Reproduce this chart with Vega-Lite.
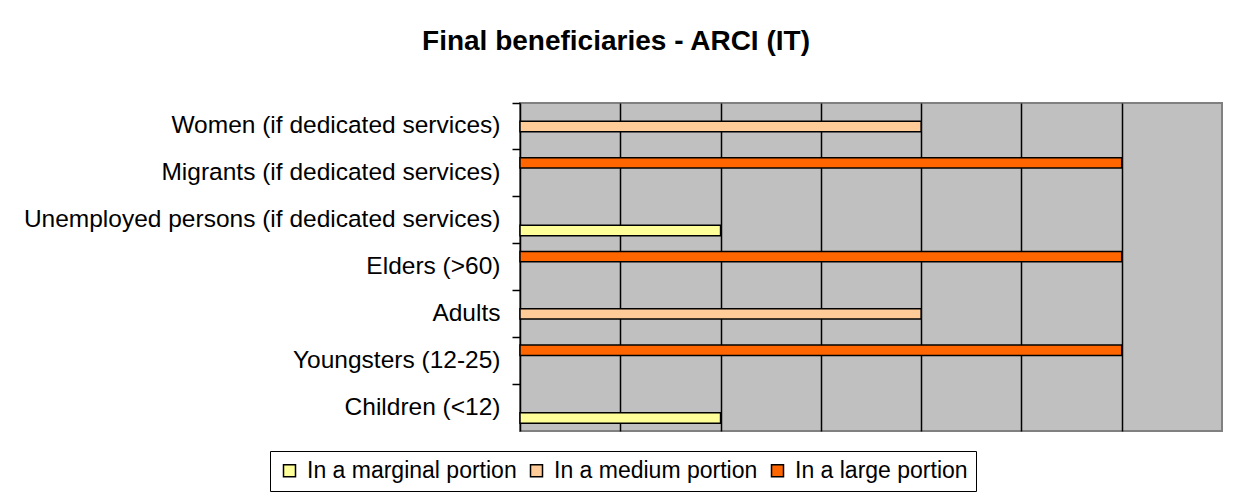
{
  "$schema": "https://vega.github.io/schema/vega-lite/v6.json",
  "width": 702,
  "height": 328,
  "autosize": {"type": "none"},
  "padding": {"left": 520, "top": 103, "right": 14, "bottom": 66},
  "background": "white",
  "title": {
    "text": "Final beneficiaries - ARCI (IT)",
    "font": "Liberation Sans",
    "fontSize": 28,
    "fontWeight": "bold",
    "color": "black",
    "anchor": "middle",
    "frame": "group",
    "dx": -255,
    "offset": 46
  },
  "data": {
    "values": [
      {"category": "Women (if dedicated services)", "portion": "In a medium portion", "value": 2},
      {"category": "Migrants (if dedicated services)", "portion": "In a large portion", "value": 3},
      {"category": "Unemployed persons (if dedicated services)", "portion": "In a marginal portion", "value": 1},
      {"category": "Elders (>60)", "portion": "In a large portion", "value": 3},
      {"category": "Adults", "portion": "In a medium portion", "value": 2},
      {"category": "Youngsters (12-25)", "portion": "In a large portion", "value": 3},
      {"category": "Children (<12)", "portion": "In a marginal portion", "value": 1}
    ]
  },
  "mark": {"type": "bar", "stroke": "black", "strokeWidth": 1.5},
  "encoding": {
    "y": {
      "field": "category",
      "type": "nominal",
      "sort": null,
      "scale": {"paddingInner": 0, "paddingOuter": 0},
      "axis": {
        "title": null,
        "bandPosition": 0,
        "labelFont": "Liberation Sans",
        "labelFontSize": 24.5,
        "labelColor": "black",
        "labelPadding": 12,
        "labelLimit": 600,
        "tickSize": 8,
        "tickColor": "black",
        "tickWidth": 1.5,
        "domainColor": "black",
        "domainWidth": 1.5,
        "grid": false
      }
    },
    "yOffset": {
      "field": "portion",
      "type": "nominal",
      "sort": ["In a large portion", "In a medium portion", "In a marginal portion"],
      "scale": {"paddingInner": 0, "paddingOuter": 0.75}
    },
    "x": {
      "field": "value",
      "type": "quantitative",
      "scale": {"domain": [0, 3.5], "nice": false},
      "axis": {
        "title": null,
        "labels": false,
        "ticks": false,
        "domain": false,
        "grid": true,
        "gridColor": "black",
        "gridWidth": 1.5,
        "values": [0.5, 1, 1.5, 2, 2.5, 3]
      }
    },
    "color": {
      "field": "portion",
      "type": "nominal",
      "scale": {
        "domain": ["In a marginal portion", "In a medium portion", "In a large portion"],
        "range": ["#FFFF99", "#FFCC99", "#FF6600"]
      },
      "legend": {
        "title": null,
        "orient": "none",
        "legendX": -250,
        "legendY": 348,
        "direction": "horizontal",
        "strokeColor": "black",
        "fillColor": "white",
        "padding": 8,
        "symbolType": "square",
        "symbolSize": 144,
        "symbolStrokeColor": "black",
        "symbolStrokeWidth": 1.5,
        "symbolOpacity": 1,
        "labelFont": "Liberation Sans",
        "labelFontSize": 23,
        "labelColor": "black",
        "labelLimit": 400,
        "columnPadding": 8,
        "labelOffset": 6
      }
    }
  },
  "config": {
    "view": {"fill": "#C0C0C0", "stroke": "#808080", "strokeWidth": 2}
  }
}
